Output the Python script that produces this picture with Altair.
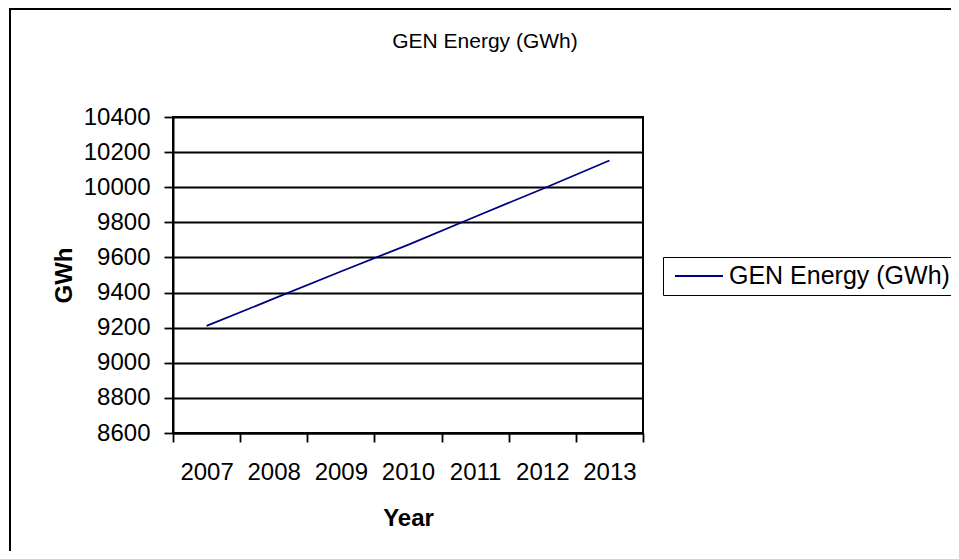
import altair as alt
import pandas as pd

years = ["2007", "2008", "2009", "2010", "2011", "2012", "2013"]
gen_energy = [9210, 9365, 9520, 9672, 9832, 9990, 10152]
series_name = "GEN Energy (GWh)"
chart_title = "GEN Energy (GWh)"
y_ticks = [8600, 8800, 9000, 9200, 9400, 9600, 9800, 10000, 10200, 10400]

df = pd.DataFrame({"Year": years, "GWh": gen_energy, "series": [series_name] * len(years)})

FONT = "Liberation Sans"

line = alt.Chart(df).mark_line(strokeWidth=1.8, clip=False).encode(
    x=alt.X(
        "Year:O",
        scale=alt.Scale(type="band", paddingInner=0, paddingOuter=0),
        axis=alt.Axis(
            title="Year",
            labelAngle=0,
            tickBand="extent",
            grid=False,
            domainColor="black",
            domainWidth=2,
            tickColor="black",
            tickWidth=1.8,
            tickSize=9,
            labelFontSize=24,
            labelPadding=18,
            labelColor="black",
            titleFontSize=24,
            titleFontWeight="bold",
            titlePadding=22,
            titleColor="black",
        ),
    ),
    y=alt.Y(
        "GWh:Q",
        scale=alt.Scale(domain=[8600, 10400], nice=False, zero=False),
        axis=alt.Axis(
            title="GWh",
            values=y_ticks,
            format="d",
            grid=True,
            gridColor="black",
            gridWidth=1.8,
            domainColor="black",
            domainWidth=2,
            tickColor="black",
            tickWidth=1.8,
            tickSize=9,
            labelFontSize=24,
            labelPadding=14,
            labelColor="black",
            titleFontSize=24,
            titleFontWeight="bold",
            titlePadding=7,
            titleColor="black",
        ),
    ),
    color=alt.Color(
        "series:N",
        scale=alt.Scale(range=["#000080"]),
        legend=alt.Legend(
            title=None,
            orient="none",
            legendX=490,
            legendY=140,
            strokeColor="black",
            padding=6,
            symbolType="M-2,0H2",
            symbolSize=576,
            symbolStrokeWidth=2,
            symbolOffset=17,
            labelOffset=17,
            labelFontSize=25,
            labelColor="black",
            labelLimit=400,
        ),
    ),
)

one_row = pd.DataFrame({"k": [0]})

border_top = alt.Chart(one_row).mark_rule(
    stroke="black", strokeWidth=2, clip=False
).encode(
    x=alt.value(-164),
    x2=alt.value(1000),
    y=alt.value(-108),
)

border_left = alt.Chart(one_row).mark_rule(
    stroke="black", strokeWidth=2, clip=False
).encode(
    x=alt.value(-163),
    y=alt.value(-109),
    y2=alt.value(700),
)

title = alt.Chart(pd.DataFrame({"t": [chart_title]})).mark_text(
    fontSize=21, color="black", align="center", baseline="middle", font=FONT
).encode(
    text="t:N",
    x=alt.value(312),
    y=alt.value(-75),
)

chart = alt.layer(border_top, border_left, line, title).properties(
    width=470,
    height=316,
    padding={"left": 165, "top": 109, "right": 308, "bottom": 118},
    autosize=alt.AutoSizeParams(type="none"),
).configure(
    font=FONT,
).configure_view(
    stroke="black",
    strokeWidth=2,
)

chart.save("out.html", embed_options={"renderer": "svg", "actions": False})
